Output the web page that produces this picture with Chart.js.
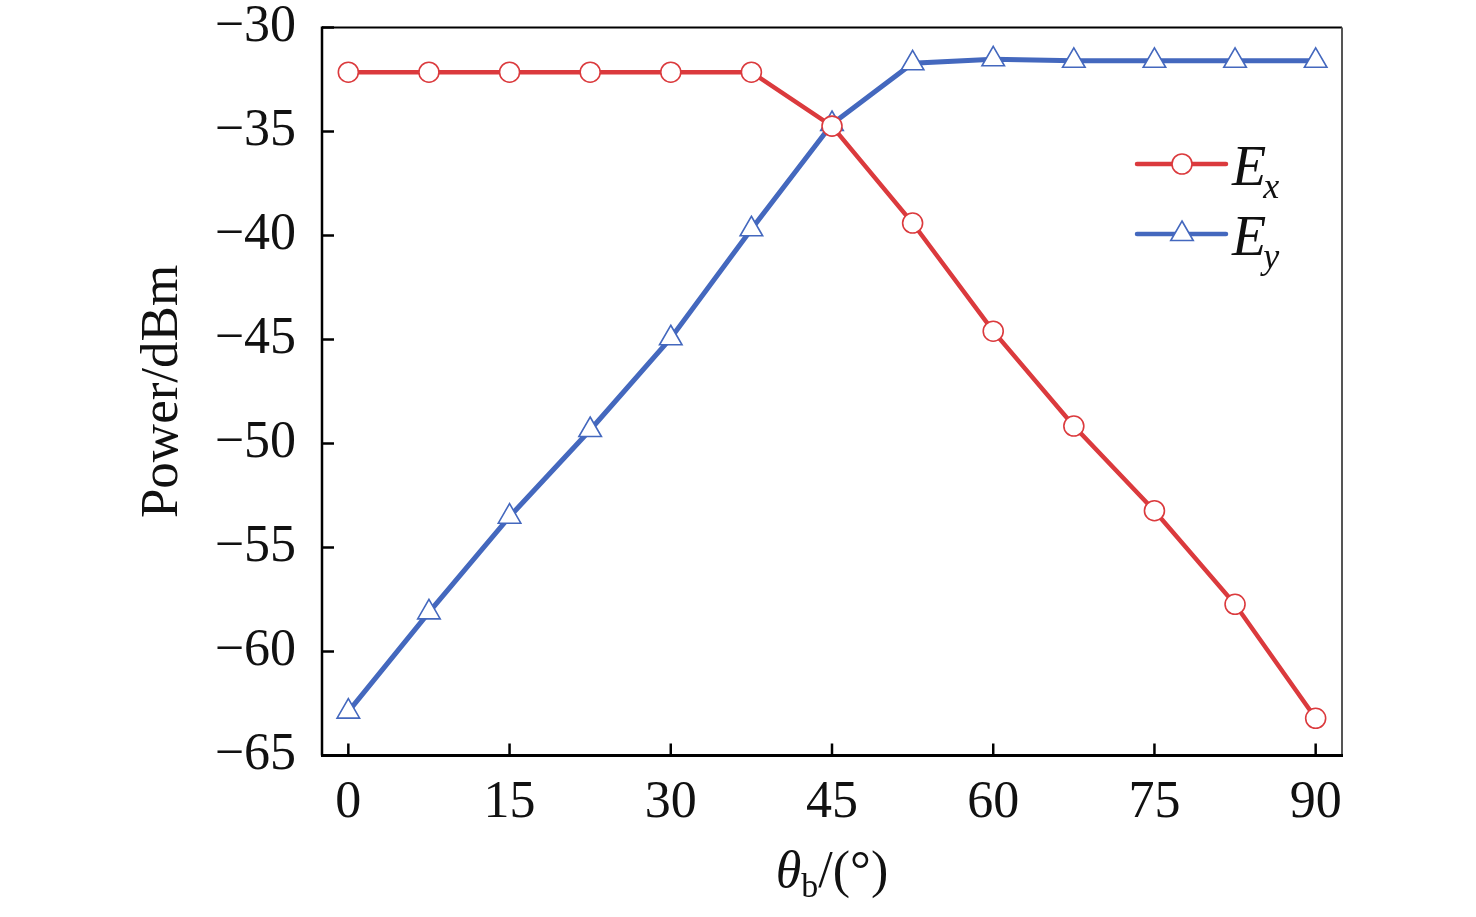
<!DOCTYPE html>
<html>
<head>
<meta charset="utf-8">
<title>Power vs θb</title>
<script src="https://cdn.jsdelivr.net/npm/chart.js@4.4.1/dist/chart.umd.min.js"></script>
<style>
  html, body { margin: 0; padding: 0; background: #fff; }
  #wrap { width: 1476px; height: 917px; position: relative; }
</style>
</head>
<body>
<div id="wrap"><canvas id="powerChart"></canvas></div>
<script>
// Datos
const angulos = [0, 7.5, 15, 22.5, 30, 37.5, 45, 52.5, 60, 67.5, 75, 82.5, 90];
const potenciaEx = [-32.15, -32.15, -32.15, -32.15, -32.15, -32.15, -34.74, -39.4, -44.6, -49.16, -53.23, -57.73, -63.21];
const potenciaEy = [-62.89, -58.12, -53.52, -49.35, -44.94, -39.7, -34.64, -31.72, -31.53, -31.6, -31.6, -31.6, -31.6];
const ticksX = [0, 15, 30, 45, 60, 75, 90];
const ticksY = [-30, -35, -40, -45, -50, -55, -60, -65];

const rojo = '#DB3A3D';
const azul = '#4468BE';
const serif = "'Liberation Serif', 'Times New Roman', serif";

// marco, marcas hacia adentro, títulos y leyenda
const marcoPlugin = {
    id: 'marco',
    beforeDatasetsDraw(chart) {
        const ctx = chart.ctx;
        const a = chart.chartArea;
        const sx = chart.scales.x, sy = chart.scales.y;
        ctx.save();
        ctx.strokeStyle = '#000';
        ctx.lineCap = 'butt';
        // ticks
        ctx.lineWidth = 2.5;
        ticksX.forEach(v => {
            const px = sx.getPixelForValue(v);
            ctx.beginPath(); ctx.moveTo(px, a.bottom); ctx.lineTo(px, a.bottom - 12); ctx.stroke();
        });
        ticksY.forEach(v => {
            const py = sy.getPixelForValue(v);
            ctx.beginPath(); ctx.moveTo(a.left, py); ctx.lineTo(a.left + 12, py); ctx.stroke();
        });
        // bordes
        ctx.lineWidth = 2;
        ctx.beginPath(); ctx.moveTo(a.left, a.top); ctx.lineTo(a.right, a.top); ctx.stroke();
        ctx.strokeStyle = '#555';
        ctx.beginPath(); ctx.moveTo(a.right, a.top); ctx.lineTo(a.right, a.bottom); ctx.stroke();
        ctx.strokeStyle = '#000';
        ctx.lineWidth = 2.5;
        ctx.beginPath(); ctx.moveTo(a.left, a.top - 1); ctx.lineTo(a.left, a.bottom); ctx.stroke();
        ctx.lineWidth = 3;
        ctx.beginPath(); ctx.moveTo(a.left - 1, a.bottom); ctx.lineTo(a.right + 1, a.bottom); ctx.stroke();
        ctx.restore();
    },
    afterDraw(chart) {
        const ctx = chart.ctx;
        const a = chart.chartArea;
        ctx.save();
        ctx.fillStyle = '#111';
        // título eje Y
        ctx.translate(177, (a.top + a.bottom) / 2);
        ctx.rotate(-Math.PI / 2);
        ctx.font = '53px ' + serif;
        ctx.textAlign = 'center';
        ctx.textBaseline = 'alphabetic';
        ctx.fillText('Power/dBm', 0, 0);
        ctx.restore();

        // título eje X: θb/(°)
        ctx.save();
        ctx.fillStyle = '#111';
        ctx.textBaseline = 'alphabetic';
        const partes = [
            { t: 'θ', f: 'italic 52px ' + serif, dy: 0 },
            { t: 'b', f: '34px ' + serif, dy: 10 },
            { t: '/(°)', f: '52px ' + serif, dy: 0 }
        ];
        let ancho = 0;
        partes.forEach(p => { ctx.font = p.f; p.w = ctx.measureText(p.t).width; ancho += p.w; });
        let x = (a.left + a.right) / 2 - ancho / 2;
        partes.forEach(p => { ctx.font = p.f; ctx.fillText(p.t, x, 887 + p.dy); x += p.w; });
        ctx.restore();

        // leyenda
        const items = [
            { sub: 'x', color: rojo, estilo: 'circle', radio: 10, y: 164 },
            { sub: 'y', color: azul, estilo: 'triangle', radio: 13, y: 234 }
        ];
        items.forEach(it => {
            ctx.save();
            ctx.strokeStyle = it.color;
            ctx.lineWidth = 4.5;
            ctx.lineCap = 'round';
            ctx.beginPath(); ctx.moveTo(1137, it.y); ctx.lineTo(1226, it.y); ctx.stroke();
            ctx.fillStyle = '#fff';
            ctx.lineWidth = 1.6;
            ctx.lineCap = 'butt';
            Chart.helpers.drawPoint(ctx, { pointStyle: it.estilo, radius: it.radio, borderWidth: 1.6 }, 1182, it.y);
            ctx.fillStyle = '#111';
            ctx.textBaseline = 'alphabetic';
            ctx.font = 'italic 56px ' + serif;
            ctx.fillText('E', 1232, it.y + 21);
            const w = ctx.measureText('E').width;
            ctx.font = 'italic 36px ' + serif;
            ctx.fillText(it.sub, 1232 + w - 3, it.y + 34);
            ctx.restore();
        });
    }
};

new Chart(document.getElementById('powerChart'), {
    type: 'line',
    data: {
        datasets: [
            {
                label: 'Ex',
                data: angulos.map((a, i) => ({ x: a, y: potenciaEx[i] })),
                borderColor: rojo,
                borderWidth: 4.5,
                pointStyle: 'circle',
                pointRadius: 10,
                pointBorderWidth: 1.6,
                pointBackgroundColor: '#fff',
                pointBorderColor: rojo,
                fill: false,
                tension: 0
            },
            {
                label: 'Ey',
                data: angulos.map((a, i) => ({ x: a, y: potenciaEy[i] })),
                borderColor: azul,
                borderWidth: 5,
                pointStyle: 'triangle',
                pointRadius: 13,
                pointBorderWidth: 1.6,
                pointBackgroundColor: '#fff',
                pointBorderColor: azul,
                fill: false,
                tension: 0
            }
        ]
    },
    options: {
        responsive: true,
        maintainAspectRatio: false,
        animation: false,
        layout: { padding: { left: 0, top: 27.5, right: 134, bottom: 0 } },
        plugins: {
            legend: { display: false },
            tooltip: { enabled: false }
        },
        scales: {
            x: {
                type: 'linear',
                min: -2.45,
                max: 92.45,
                afterFit: s => { s.height = 161.5; s.paddingLeft = 0; s.paddingRight = 0; },
                afterBuildTicks: s => { s.ticks = ticksX.map(v => ({ value: v })); },
                grid: { display: false, drawTicks: false },
                border: { display: false },
                ticks: {
                    color: '#111',
                    padding: 22,
                    maxRotation: 0,
                    font: { family: serif, size: 52, lineHeight: 1 }
                }
            },
            y: {
                type: 'linear',
                min: -65,
                max: -30,
                afterFit: s => { s.width = 322; s.paddingTop = 0; s.paddingBottom = 0; },
                afterBuildTicks: s => { s.ticks = ticksY.map(v => ({ value: v })); },
                grid: { display: false, drawTicks: false },
                border: { display: false },
                ticks: {
                    color: '#111',
                    padding: 26,
                    font: { family: serif, size: 52, lineHeight: 1 },
                    callback: v => String(v).replace('-', '\u2212')
                }
            }
        }
    },
    plugins: [marcoPlugin]
});
</script>
</body>
</html>
